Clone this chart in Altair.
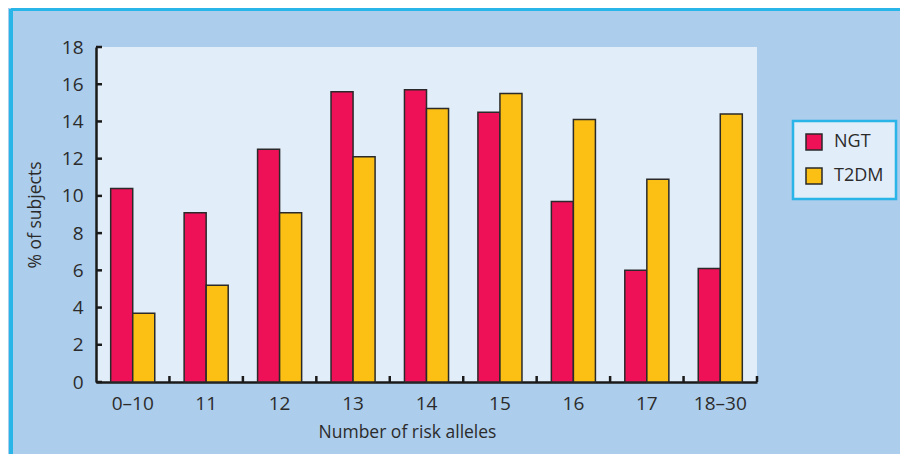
import altair as alt
import pandas as pd

categories = ["0–10", "11", "12", "13", "14", "15", "16", "17", "18–30"]
groups = ["NGT", "T2DM"]
ngt = [10.4, 9.1, 12.5, 15.6, 15.7, 14.5, 9.7, 6.0, 6.1]
t2dm = [3.7, 5.2, 9.1, 12.1, 14.7, 15.5, 14.1, 10.9, 14.4]
y_ticks = [0, 2, 4, 6, 8, 10, 12, 14, 16, 18]

rows = []
for c, a, b in zip(categories, ngt, t2dm):
    rows.append({"cat": c, "group": "NGT", "value": a})
    rows.append({"cat": c, "group": "T2DM", "value": b})
df = pd.DataFrame(rows)
cat_df = pd.DataFrame({"cat": categories})
yt_df = pd.DataFrame({"value": y_ticks})

W, H = 661, 335
FONT = "Open Sans"
step = W / len(categories)

xscale = alt.Scale(domain=categories, paddingInner=0.4, paddingOuter=0.2)
yscale = alt.Scale(domain=[0, 18], nice=False)
xaxis = alt.Axis(title="Number of risk alleles", labelAngle=0, ticks=False,
                 labelPadding=12, titlePadding=10, titleX=311)
yaxis = alt.Axis(title="% of subjects", values=y_ticks, ticks=False, grid=False,
                 labelOverlap=False, labelPadding=13, titlePadding=17)

bars = alt.Chart(df).mark_bar(stroke="#2a2a2a", strokeWidth=1.5).encode(
    x=alt.X("cat:N", sort=categories, scale=xscale, axis=xaxis),
    xOffset=alt.XOffset("group:N", sort=groups, scale=alt.Scale(paddingInner=0, paddingOuter=0)),
    y=alt.Y("value:Q", scale=yscale, axis=yaxis),
    color=alt.Color("group:N", scale=alt.Scale(domain=groups, range=["#EE1158", "#FCBF13"]),
                    legend=alt.Legend(title=None, orient="none", legendX=697, legendY=74,
                                      fillColor="#E1EDF9", strokeColor="#29B5E8",
                                      padding=12, symbolType="square", symbolSize=256,
                                      symbolStrokeColor="#2a2a2a", symbolStrokeWidth=1.5,
                                      labelFontSize=18, labelFont=FONT, labelColor="#2b2b2b",
                                      labelOffset=11, rowPadding=12)),
)

xticks = alt.Chart(cat_df).mark_rule(color="#1a1a1a", strokeWidth=2.5, xOffset=0.2 * step).encode(
    x=alt.X("cat:N", sort=categories, scale=xscale, axis=xaxis, bandPosition=1),
    y=alt.value(H),
    y2=alt.value(H - 6),
)

yticks = alt.Chart(yt_df).mark_rule(color="#1a1a1a", strokeWidth=2.5).encode(
    y=alt.Y("value:Q", scale=yscale, axis=yaxis),
    x=alt.value(0),
    x2=alt.value(6),
)

border_top = alt.Chart(cat_df).mark_rule(color="#29B5E8", strokeWidth=3).encode(
    x=alt.value(-85), x2=alt.value(W + 150), y=alt.value(-38)
)
border_left = alt.Chart(cat_df).mark_rule(color="#29B5E8", strokeWidth=3).encode(
    x=alt.value(-85), y=alt.value(-38), y2=alt.value(H + 80)
)

chart = alt.layer(border_top, border_left, bars, xticks, yticks).properties(
    width=W, height=H,
    autosize=alt.AutoSizeParams(type="none"),
    padding={"left": 88, "top": 39, "right": 143, "bottom": 72},
    background="#ACCDEB",
).configure_view(
    fill="#E1EDF9", strokeWidth=0
).configure_axis(
    domainColor="#1a1a1a", domainWidth=2.5,
    labelFont=FONT, labelFontSize=19, labelColor="#2b2b2b",
    titleFont=FONT, titleFontSize=17.5, titleFontWeight="normal", titleColor="#2b2b2b",
).configure_axisY(
    labelOverlap=False
).configure_legend(
    strokeWidth=2.5
)

chart.save("out.html", embed_options={"renderer": "svg", "actions": False})
